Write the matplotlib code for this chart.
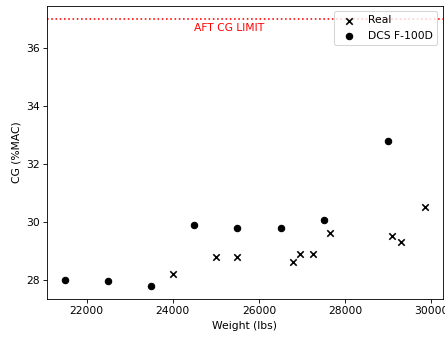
import matplotlib
matplotlib.use('Agg')
import matplotlib.pyplot as plt

# Real aircraft data
real_weight = [24000, 25000, 25500, 26800, 26950, 27250, 27650, 29100, 29300, 29850]
real_cg = [28.2, 28.8, 28.8, 28.6, 28.9, 28.9, 29.6, 29.5, 29.3, 30.5]

# DCS F-100D data
dcs_weight = [21500, 22500, 23500, 24500, 25500, 26500, 27500, 29000]
dcs_cg = [28.0, 27.97, 27.8, 29.9, 29.8, 29.77, 30.05, 32.8]

aft_limit = 37.0

DPI = 77
fig = plt.figure(figsize=(445 / DPI, 340 / DPI))
ax = fig.add_axes([0.106, 0.121, 0.889, 0.862])

ax.scatter(real_weight, real_cg, marker='x', color='black', label='Real')
ax.scatter(dcs_weight, dcs_cg, marker='o', color='black', label='DCS F-100D')
ax.axhline(aft_limit, color='red', linestyle=':')
ax.text(24500, aft_limit - 0.4, 'AFT CG LIMIT', color='red')

ax.set_xlabel('Weight (lbs)')
ax.set_ylabel('CG (%MAC)')
ax.legend(loc='upper right')

plt.savefig('out.png', dpi=DPI)
